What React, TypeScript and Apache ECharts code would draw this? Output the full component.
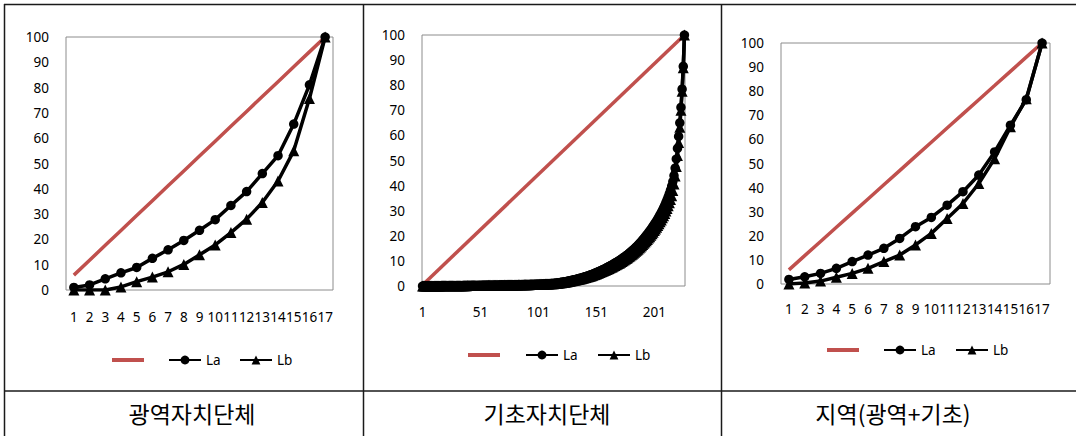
import React, { useEffect, useRef } from "react";
import * as echarts from "echarts";

// ---------- data ----------
const CAT17 = ["1","2","3","4","5","6","7","8","9","10","11","12","13","14","15","16","17"];
const EQ17 = [5.88, 11.76, 17.65, 23.53, 29.41, 35.29, 41.18, 47.06, 52.94, 58.82, 64.71, 70.59, 76.47, 82.35, 88.24, 94.12, 100];

// panel 1 : 광역자치단체
const LA_1 = [1.0, 2.0, 4.4, 6.8, 8.9, 12.5, 15.9, 19.6, 23.6, 27.8, 33.4, 38.9, 46.0, 53.1, 65.6, 81.1, 100];
const LB_1 = [0, 0, 0, 1.2, 3.3, 5.1, 7.2, 10.1, 13.9, 17.8, 22.7, 28.0, 34.6, 43.1, 55.0, 75.7, 100];

// panel 3 : 지역(광역+기초)
const LA_3 = [1.9, 3.0, 4.4, 6.5, 9.3, 12.0, 14.8, 18.9, 23.8, 27.6, 32.7, 38.3, 45.2, 54.8, 65.9, 76.5, 100];
const LB_3 = [0, 0.4, 1.2, 2.8, 4.4, 6.5, 9.3, 12.0, 16.2, 21.0, 27.2, 33.4, 41.7, 52.0, 65.2, 76.9, 100];

// panel 2 : 기초자치단체 (227 units)
const N2 = 227;
const CAT227 = Array.from({ length: N2 }, (_, i) => String(i + 1));
const EQ2: [number, number][] = [[0, 0.44], [226, 100]];
const LA_2 = [
  0,0.01,0.01,0.01,0.02,0.02,0.02,0.03,0.03,0.03,0.04,0.04,0.04,0.05,0.05,0.05,0.06,0.06,0.06,0.07,
  0.07,0.08,0.08,0.09,0.09,0.10,0.10,0.11,0.11,0.12,0.12,0.13,0.13,0.14,0.14,0.15,0.15,0.16,0.16,0.17,
  0.17,0.18,0.18,0.19,0.20,0.20,0.21,0.21,0.22,0.23,0.23,0.24,0.25,0.25,0.26,0.27,0.27,0.28,0.29,0.29,
  0.30,0.31,0.32,0.32,0.33,0.34,0.35,0.35,0.36,0.37,0.38,0.39,0.40,0.40,0.41,0.42,0.43,0.44,0.45,0.46,
  0.47,0.48,0.49,0.50,0.51,0.52,0.53,0.54,0.55,0.56,0.57,0.58,0.59,0.61,0.62,0.63,0.64,0.66,0.67,0.68,
  0.70,0.72,0.74,0.76,0.78,0.80,0.83,0.85,0.88,0.91,0.94,0.97,1.00,
  1.04,1.09,1.14,1.19,1.25,1.32,1.39,1.46,1.54,1.62,1.71,1.80,1.89,1.98,2.08,2.18,2.28,2.39,2.50,2.61,2.73,2.85,2.97,3.10,3.23,3.36,3.50,3.64,3.78,
  3.93,4.09,4.25,4.42,4.59,4.77,4.95,5.14,5.33,5.53,5.73,5.94,6.15,6.37,6.59,6.82,7.05,7.29,7.53,7.78,8.03,8.29,8.55,8.82,9.09,9.37,9.65,9.94,10.23,
  10.53,10.84,11.16,11.49,11.83,12.18,12.54,12.91,13.29,13.68,14.08,14.50,14.93,15.37,15.83,16.30,16.79,17.29,17.81,18.34,18.89,19.45,20.03,20.62,21.23,21.85,22.49,23.15,23.83,
  24.53,25.25,25.99,26.76,27.56,28.39,29.26,30.17,31.12,32.12,33.18,34.31,35.52,36.82,38.24,
  39.80,41.60,44.00,47.00,50.60,54.80,59.60,65.00,71.20,78.40,87.50,100
];
const LB_2 = [
  0,0,0,0.01,0.01,0.01,0.02,0.02,0.02,0.02,0.03,0.03,0.03,0.04,0.04,0.04,0.05,0.05,0.05,0.06,
  0.06,0.07,0.07,0.08,0.08,0.09,0.09,0.10,0.10,0.11,0.11,0.12,0.12,0.13,0.13,0.14,0.14,0.14,0.14,0.15,
  0.15,0.16,0.16,0.17,0.18,0.18,0.19,0.19,0.20,0.21,0.21,0.22,0.23,0.23,0.23,0.24,0.24,0.25,0.26,0.26,
  0.27,0.28,0.29,0.29,0.30,0.31,0.32,0.32,0.32,0.33,0.34,0.35,0.36,0.36,0.37,0.38,0.39,0.40,0.41,0.41,
  0.42,0.43,0.44,0.45,0.46,0.47,0.48,0.49,0.50,0.50,0.51,0.52,0.53,0.55,0.56,0.57,0.58,0.59,0.60,0.61,
  0.63,0.65,0.67,0.68,0.70,0.72,0.75,0.77,0.79,0.82,0.85,0.87,0.90,
  0.94,0.98,1.03,1.07,1.13,1.19,1.25,1.31,1.39,1.46,1.54,1.62,1.70,1.78,1.87,1.96,2.05,2.15,2.25,2.35,2.46,2.57,2.67,2.79,2.91,3.02,3.15,3.28,3.40,
  3.54,3.68,3.83,3.98,4.13,4.29,4.46,4.63,4.80,4.98,5.16,5.35,5.54,5.73,5.93,6.14,6.35,6.56,6.78,7.00,7.23,7.46,7.70,7.94,8.18,8.43,8.69,8.95,9.21,
  9.48,9.76,10.04,10.34,10.65,10.96,11.29,11.62,11.96,12.31,12.67,13.05,13.44,13.83,14.25,14.67,15.11,15.56,16.03,16.51,17.00,17.51,18.03,18.56,19.11,19.67,20.24,20.84,21.45,
  22.08,22.73,23.39,24.08,24.80,25.55,26.33,27.15,28.01,28.91,29.86,30.88,31.97,33.14,34.42,
  36.0,38.0,40.6,43.8,47.6,52.0,57.2,63.2,70.0,77.6,87.0,100
];

const PANEL_TITLES = ["광역자치단체", "기초자치단체", "지역(광역+기초)"];
const EQ_NAME = " ";
const LA_NAME = "La";
const LB_NAME = "Lb";

// ---------- layout ----------
const FONT = "'Noto Sans', 'DejaVu Sans', sans-serif";
const KFONT = "'Noto Sans CJK KR', sans-serif";
const RED = "#C0504D";

const GRIDS = [
  { left: 66, top: 37, width: 267, height: 253 },
  { left: 422, top: 35, width: 263, height: 251 },
  { left: 781, top: 43, width: 269, height: 241 },
];
const XMARGIN = [20, 19, 18];
const LEGEND_POS = [
  { y: 362, red: 112, la: 168, lb: 239 },
  { y: 357, red: 468, la: 525, lb: 597 },
  { y: 352, red: 827, la: 883, lb: 955 },
];
const TITLE_X = [192, 547, 893];

export default function App() {
  const ref = useRef<HTMLDivElement>(null);

  useEffect(() => {
    if (!ref.current) return;
    const chart = echarts.init(ref.current, undefined, { renderer: "svg" });

    const panelData = [
      { cats: CAT17, eq: EQ17 as any, la: LA_1, lb: LB_1, size: 9.5, interval: 0 },
      { cats: CAT227, eq: EQ2 as any, la: LA_2, lb: LB_2, size: 9.5, interval: 49 },
      { cats: CAT17, eq: EQ17 as any, la: LA_3, lb: LB_3, size: 9.5, interval: 0 },
    ];

    const labelStyle = { fontSize: 13.5, color: "#000", fontFamily: FONT };

    const series: any[] = [];
    panelData.forEach((p, i) => {
      series.push({
        type: "line", name: EQ_NAME, xAxisIndex: i, yAxisIndex: i, data: p.eq,
        symbol: "none", lineStyle: { color: RED, width: 3.5 }, itemStyle: { color: RED }, z: 2,
      });
      series.push({
        type: "line", name: LA_NAME, xAxisIndex: i, yAxisIndex: i, data: p.la,
        symbol: "circle", symbolSize: p.size, showAllSymbol: true,
        lineStyle: { color: "#000", width: 3.5 }, itemStyle: { color: "#000" }, z: 3,
      });
      series.push({
        type: "line", name: LB_NAME, xAxisIndex: i, yAxisIndex: i, data: p.lb,
        symbol: "triangle", symbolSize: p.size + 1.5, showAllSymbol: true,
        lineStyle: { color: "#000", width: 3.5 }, itemStyle: { color: "#000" }, z: 3,
      });
    });

    const legends: any[] = [];
    LEGEND_POS.forEach((l) => {
      const common = {
        orient: "horizontal", padding: 0, selectedMode: false,
        textStyle: { fontSize: 13.5, color: "#000", fontFamily: FONT },
      };
      legends.push({ ...common, data: [EQ_NAME], left: l.red, top: l.y - 9, icon: "rect", itemWidth: 32, itemHeight: 4 });
      legends.push({ ...common, data: [LA_NAME], left: l.la, top: l.y - 9, itemWidth: 32, itemHeight: 11 });
      legends.push({ ...common, data: [LB_NAME], left: l.lb, top: l.y - 9, itemWidth: 32, itemHeight: 11 });
    });

    const lineStyle = { stroke: "#1a1a1a", lineWidth: 1.5 };
    const graphic: any[] = [
      { type: "line", shape: { x1: 4, y1: 4.5, x2: 1076, y2: 4.5 }, style: lineStyle },
      { type: "line", shape: { x1: 4.5, y1: 4, x2: 4.5, y2: 436 }, style: lineStyle },
      { type: "line", shape: { x1: 363.5, y1: 4, x2: 363.5, y2: 436 }, style: lineStyle },
      { type: "line", shape: { x1: 721.5, y1: 4, x2: 721.5, y2: 436 }, style: lineStyle },
      { type: "line", shape: { x1: 4, y1: 391, x2: 1076, y2: 391 }, style: lineStyle },
      ...PANEL_TITLES.map((t, i) => ({
        type: "text", x: TITLE_X[i], y: 413,
        style: { text: t, fontSize: 23, fontFamily: KFONT, fill: "#000", align: "center", verticalAlign: "middle" },
      })),
    ];

    chart.setOption({
      animation: false,
      backgroundColor: "#fff",
      grid: GRIDS.map((g) => ({ ...g, show: true, borderColor: "#8c8c8c", borderWidth: 1, backgroundColor: "transparent" })),
      xAxis: panelData.map((p, i) => ({
        type: "category", gridIndex: i, data: p.cats, boundaryGap: true,
        axisLine: { show: false }, axisTick: { show: false }, splitLine: { show: false },
        axisLabel: { ...labelStyle, interval: p.interval, margin: XMARGIN[i], hideOverlap: false },
      })),
      yAxis: panelData.map((_, i) => ({
        type: "value", gridIndex: i, min: 0, max: 100, interval: 10,
        axisLine: { show: false }, axisTick: { show: false }, splitLine: { show: false },
        axisLabel: { ...labelStyle, margin: 17 },
      })),
      legend: legends,
      series,
      graphic,
    });

    return () => chart.dispose();
  }, []);

  return (
    <div
      ref={ref}
      style={{ position: "absolute", left: 0, top: 0, width: 1076, height: 436, background: "#fff" }}
    />
  );
}
